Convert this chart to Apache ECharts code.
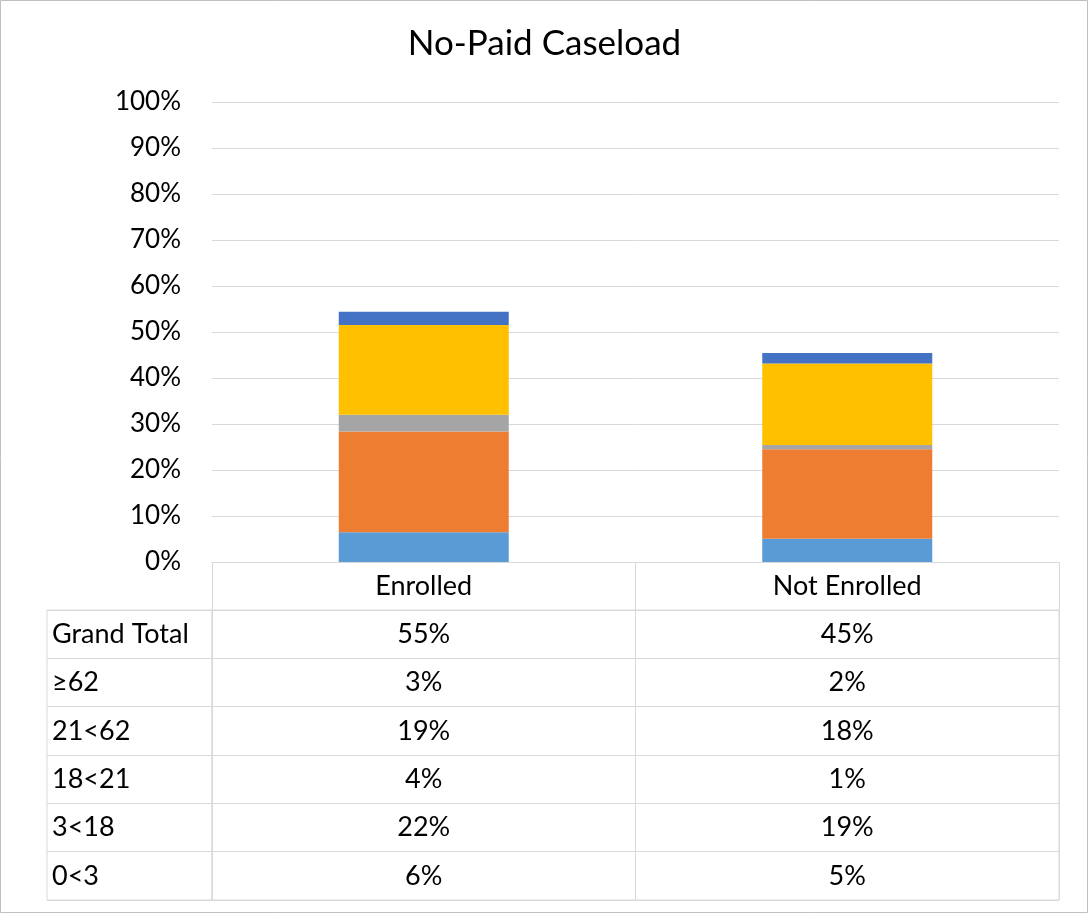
<!DOCTYPE html>
<html>
<head>
<meta charset="utf-8">
<script src="https://cdn.jsdelivr.net/npm/echarts@6/dist/echarts.min.js"></script>
<style>
  html, body { margin: 0; padding: 0; background: #fff; }
  #chart { width: 1089px; height: 914px; }
</style>
</head>
<body>
<div id="chart"></div>
<script>
const categories = ['Enrolled', 'Not Enrolled'];
const groups = ['0<3', '3<18', '18<21', '21<62', '≥62'];
const colors = ['#5B9BD5', '#ED7D31', '#A5A5A5', '#FFC000', '#4472C4'];

// percent values per age group
const age0to3 = [6.45, 5.07];
const age3to18 = [21.9, 19.43];
const age18to21 = [3.65, 0.93];
const age21to62 = [19.5, 17.7];
const age62plus = [2.9, 2.3];

// data table, top row first
const tableRows = ['Grand Total', '≥62', '21<62', '18<21', '3<18', '0<3'];
const tableEnrolled = ['55%', '3%', '19%', '4%', '22%', '6%'];
const tableNotEnrolled = ['45%', '2%', '18%', '1%', '19%', '5%'];

const font = 'Lato, "Noto Sans", sans-serif';
const lineColor = '#d9d9d9';
const seriesValues = [age0to3, age3to18, age18to21, age21to62, age62plus];

let chart = echarts.init(document.getElementById('chart'));

let barSeries = groups.map((name, i) => ({
    name: name,
    type: 'bar',
    stack: 'total',
    barWidth: 170,
    xAxisIndex: 0,
    yAxisIndex: 0,
    itemStyle: {color: colors[i]},
    data: seriesValues[i]
}));

let cellData = [];
tableRows.forEach((row, r) => {
    cellData.push([categories[0], row, tableEnrolled[r]]);
    cellData.push([categories[1], row, tableNotEnrolled[r]]);
});

chart.setOption({
    animation: false,
    title: {
        text: 'No-Paid Caseload',
        left: 'center',
        top: 21,
        textStyle: {fontFamily: font, fontSize: 35, fontWeight: 'normal', color: '#000'}
    },
    graphic: [{
        type: 'rect',
        shape: {x: 0.5, y: 0.5, width: 1087, height: 912},
        style: {fill: 'none', stroke: '#bfbfbf', lineWidth: 1}
    }],
    grid: [
        {left: 212, right: 30, top: 102, bottom: 352},
        {left: 212, right: 30, top: 610, bottom: 14, show: true, borderColor: lineColor, borderWidth: 1},
        {left: 47, width: 165, top: 610, bottom: 14, show: true, borderColor: lineColor, borderWidth: 1}
    ],
    xAxis: [
        {
            type: 'category', gridIndex: 0, data: categories,
            axisLine: {lineStyle: {color: lineColor}},
            axisTick: {show: true, length: 48, lineStyle: {color: lineColor}},
            axisLabel: {fontFamily: font, fontSize: 27, color: '#000', margin: 11}
        },
        {
            type: 'category', gridIndex: 1, data: categories,
            axisLine: {show: false}, axisTick: {show: false}, axisLabel: {show: false},
            splitLine: {show: true, lineStyle: {color: lineColor}}
        },
        {
            type: 'category', gridIndex: 2, data: [''],
            axisLine: {show: false}, axisTick: {show: false}, axisLabel: {show: false}
        }
    ],
    yAxis: [
        {
            type: 'value', gridIndex: 0, min: 0, max: 100, interval: 10,
            axisLine: {show: false}, axisTick: {show: false},
            axisLabel: {formatter: '{value}%', fontFamily: font, fontSize: 26, color: '#000', margin: 31},
            splitLine: {lineStyle: {color: lineColor}}
        },
        {
            type: 'category', gridIndex: 1, data: tableRows, inverse: true,
            axisLine: {show: false}, axisTick: {show: false}, axisLabel: {show: false},
            splitLine: {show: true, lineStyle: {color: lineColor}}
        },
        {
            type: 'category', gridIndex: 2, data: tableRows, inverse: true,
            axisLine: {show: false}, axisTick: {show: false},
            axisLabel: {inside: true, margin: 5, fontFamily: font, fontSize: 27, color: '#000'},
            splitLine: {show: true, lineStyle: {color: lineColor}}
        }
    ],
    series: barSeries.concat([{
        type: 'scatter',
        xAxisIndex: 1,
        yAxisIndex: 1,
        symbolSize: 0,
        silent: true,
        itemStyle: {opacity: 1},
        label: {
            show: true, position: 'inside',
            formatter: p => p.data[2],
            fontFamily: font, fontSize: 27, color: '#000', opacity: 1
        },
        data: cellData
    }])
});
</script>
</body>
</html>
